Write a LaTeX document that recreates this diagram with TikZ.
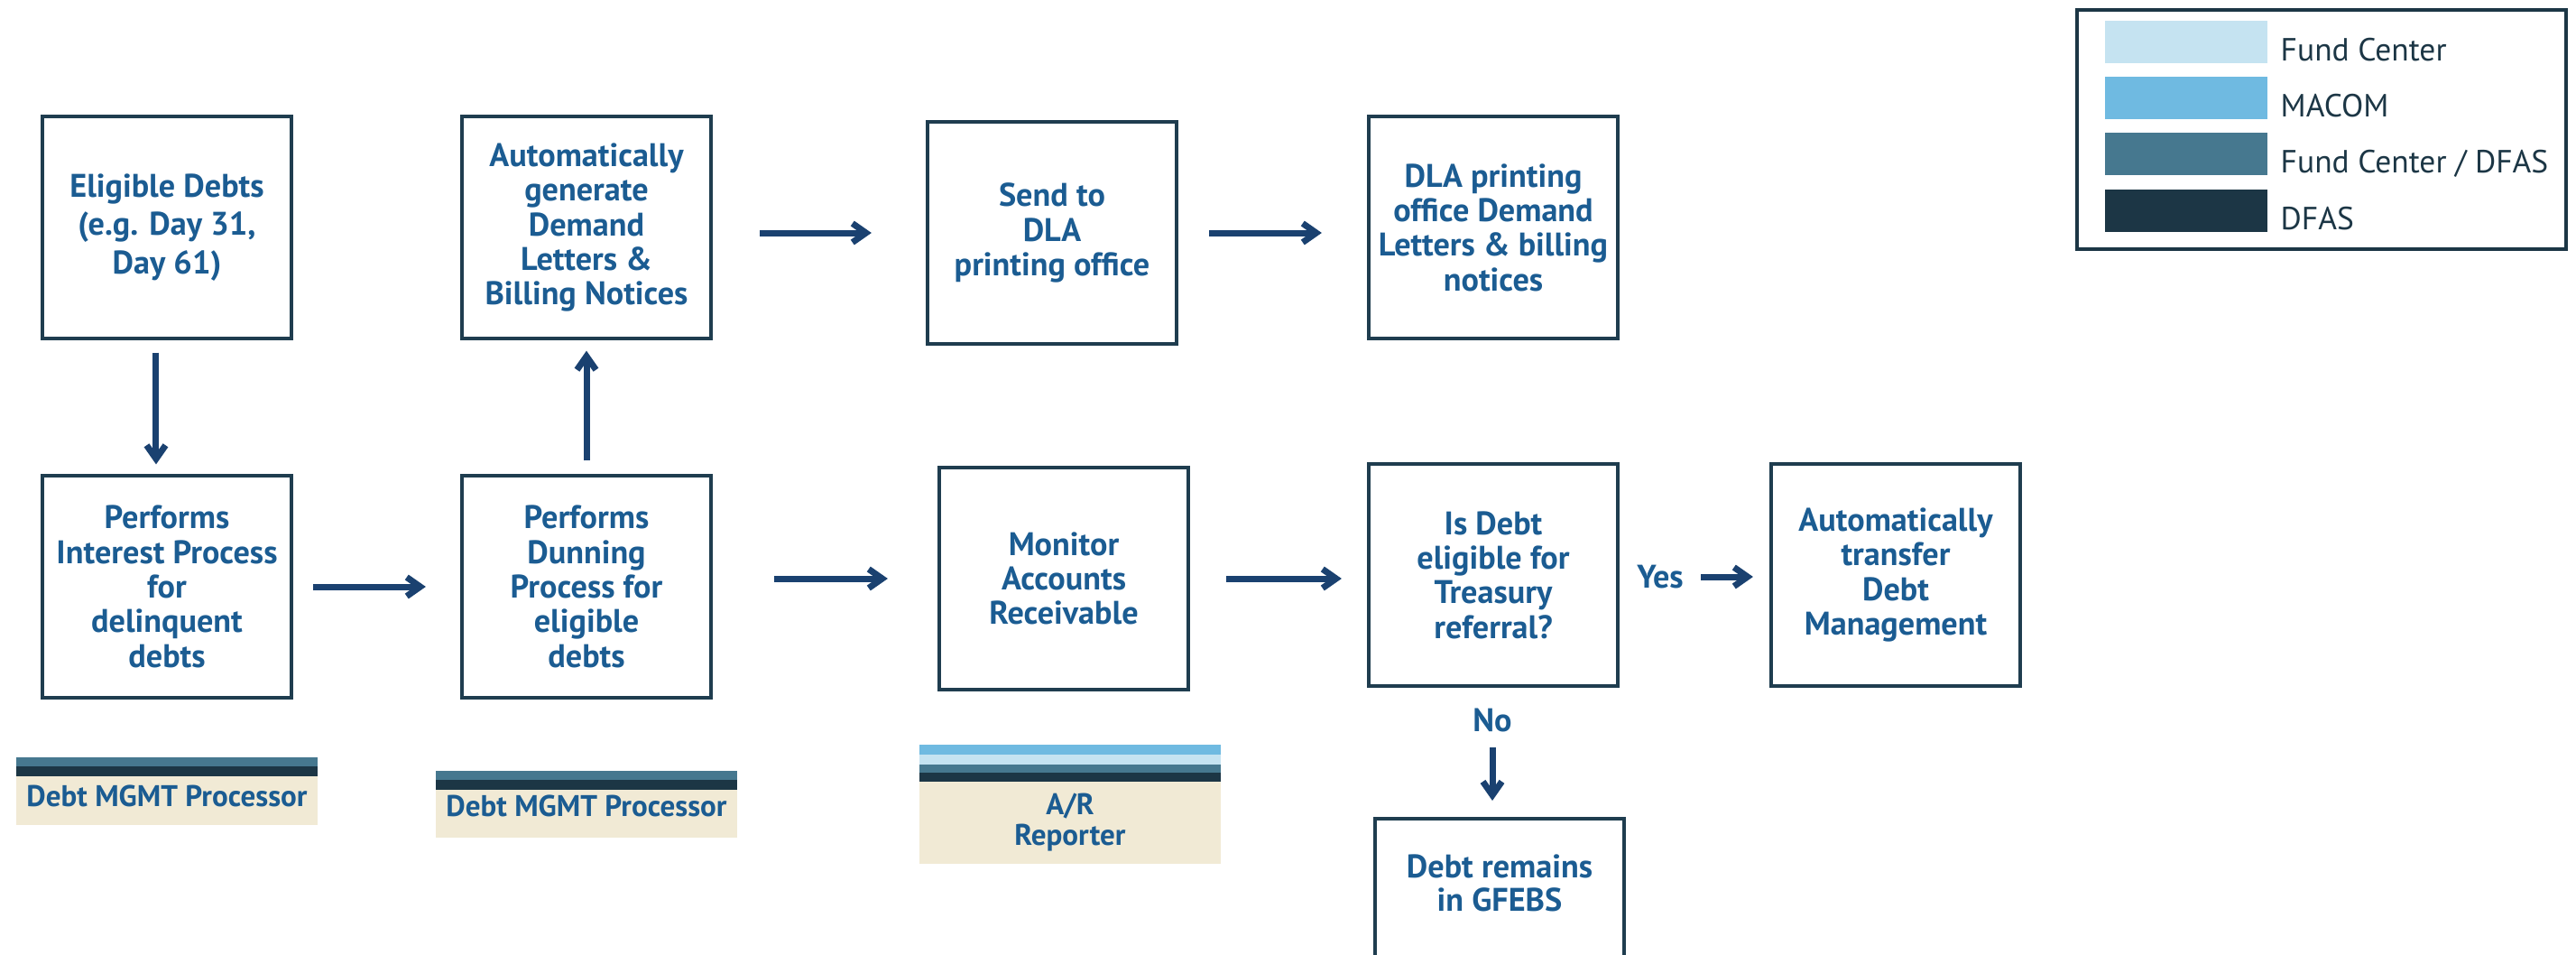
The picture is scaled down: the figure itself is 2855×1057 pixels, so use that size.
\documentclass[tikz,border=0pt]{standalone}
\usepackage{fontspec}
\setmainfont{PT Sans}
\usetikzlibrary{arrows.meta}

\definecolor{txtblue}{HTML}{1B5C92}
\definecolor{boxline}{HTML}{1F3D4F}
\definecolor{flowblue}{HTML}{1A4170}
\definecolor{fclight}{HTML}{C5E3F1}
\definecolor{macom}{HTML}{6FBAE1}
\definecolor{fcdfas}{HTML}{46788F}
\definecolor{dfas}{HTML}{1C3645}
\definecolor{rolebeige}{HTML}{F1EAD5}

\tikzset{
  stepbox/.style={draw=boxline, line width=0.4mm, minimum width=27.6mm,
    minimum height=24.5mm, inner sep=0pt, align=center, text=txtblue,
    font=\bfseries\fontsize{10.3}{10.9}\selectfont},
  tag/.style={inner sep=0pt, align=center, text=txtblue,
    font=\bfseries\fontsize{10.3}{10.5}\selectfont},
  roletext/.style={inner sep=0pt, align=center, text=txtblue,
    font=\bfseries\fontsize{9.4}{9.8}\selectfont},
  legtext/.style={inner sep=0pt, anchor=base west, text=dfas,
    font=\fontsize{10.1}{11}\selectfont}
}

\begin{document}
\begin{tikzpicture}[x=0.01cm, y=-0.01cm]
	\useasboundingbox (0,0) rectangle (2855,1057);

	\begin{scope}[every node/.style={stepbox}]
		\node[font=\bfseries\fontsize{10.3}{12.1}\selectfont] (elig) at (185,252) {Eligible Debts\\(e.g. Day 31,\\Day 61)};
		\node (autogen) at (650,252) {Automatically\\generate\\Demand\\Letters \&\\Billing Notices};
		\node (send) at (1166,258) {Send to\\DLA\\printing office};
		\node (dlaoffice) at (1655,252) {DLA printing\\office Demand\\Letters \& billing\\notices};
		\node (interest) at (185,650) {Performs\\Interest Process\\for\\delinquent\\debts};
		\node (dunning) at (650,650) {Performs\\Dunning\\Process for\\eligible\\debts};
		\node (monitor) at (1179,641) {Monitor\\Accounts\\Receivable};
		\node (eligq) at (1655,637) {Is Debt\\eligible for\\Treasury\\referral?};
		\node (transfer) at (2101,637) {Automatically\\transfer\\Debt\\Management};
		\node[anchor=north] (remains) at (1662,905) {};
	\end{scope}

	\node[tag] (remainstxt) at (1662,978) {Debt remains\\in GFEBS};
	\node[tag] (yeslbl) at (1840,639) {Yes};
	\node[tag] (nolbl) at (1654,798) {No};

	\begin{scope}[>={Straight Barb[length=1.5mm,width=2.1mm]},
	              every edge/.style={draw=flowblue, line width=0.7mm, ->}]
		\path ([xshift=-1.2mm]elig.south) edge[shorten <=1.4mm, shorten >=1.1mm] ([xshift=-1.2mm]interest.north);
		\path (dunning) edge[shorten <=1.5mm, shorten >=1.2mm] (autogen);
		\path (autogen.east |- send) edge[shorten <=5.2mm, shorten >=6mm] (send);
		\path (send) edge[shorten <=3.4mm, shorten >=5mm] (dlaoffice.west |- send);
		\path (interest) edge[shorten <=2.2mm, shorten >=3.8mm] (dunning);
		\path (dunning.east |- monitor) edge[shorten <=6.8mm, shorten >=5.5mm] (monitor);
		\path (monitor) edge[shorten <=4mm, shorten >=2.8mm] (eligq.west |- monitor);
		\path (yeslbl) edge[shorten <=1.9mm, shorten >=1.8mm] (transfer.west |- yeslbl);
		\path (nolbl) edge[shorten <=1.6mm, shorten >=1.8mm] (nolbl |- remains.north);
	\end{scope}

	% role bars
	\fill[fcdfas] (18,839) rectangle (352,849);
	\fill[dfas] (18,849) rectangle (352,860);
	\fill[rolebeige] (18,860) rectangle (352,914);
	\node[roletext, anchor=base] (procA) at (185,893) {Debt MGMT Processor};

	\fill[fcdfas] (483,854) rectangle (817,864);
	\fill[dfas] (483,864) rectangle (817,875);
	\fill[rolebeige] (483,875) rectangle (817,928);
	\node[roletext, anchor=base] (procB) at (650,904) {Debt MGMT Processor};

	\fill[macom] (1019,825) rectangle (1353,836);
	\fill[fclight] (1019,836) rectangle (1353,847);
	\fill[fcdfas] (1019,847) rectangle (1353,856);
	\fill[dfas] (1019,856) rectangle (1353,866);
	\fill[rolebeige] (1019,866) rectangle (1353,957);
	\node[roletext] (reporter) at (1186,911) {A/R\\Reporter};

	% legend
	\draw[dfas, line width=0.4mm] (2302,11) rectangle (2844,276);
	\foreach \col/\ytop/\lbl [count=\i] in {fclight/23/{Fund Center}, macom/85/{MACOM},
	                                        fcdfas/147/{Fund Center / DFAS}, dfas/210/{DFAS}} {
		\fill[\col] (2333,\ytop) rectangle ++(180,47);
		\node[legtext] (leg\i) at (2527,\ytop+44) {\lbl};
	}
\end{tikzpicture}
\end{document}
